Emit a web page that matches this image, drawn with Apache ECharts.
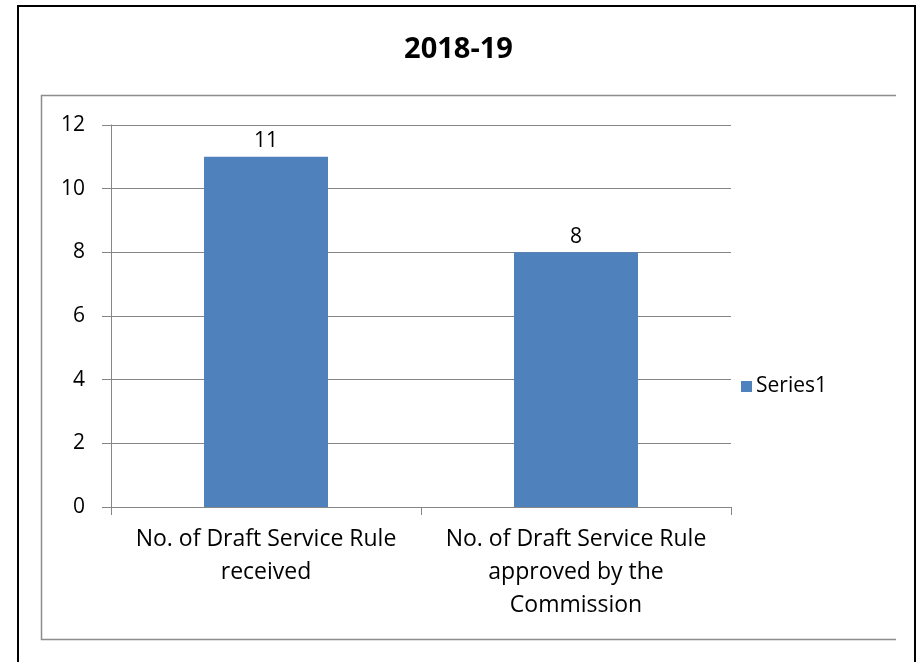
<!DOCTYPE html>
<html>
<head>
<meta charset="utf-8">
<script src="https://cdn.jsdelivr.net/npm/echarts@6/dist/echarts.min.js"></script>
<style>html,body{margin:0;padding:0;background:#fff}#c{width:917px;height:662px}</style>
</head>
<body>
<div id="c"></div>
<script>
const title = '2018-19';
const categories = ['No. of Draft Service Rule\nreceived', 'No. of Draft Service Rule\napproved by the\nCommission'];
const seriesName = 'Series1';
const values = [11, 8];
const yTicks = {min: 0, max: 12, interval: 2};

const FONT = 'Open Sans';
const chart = echarts.init(document.getElementById('c'), null, {renderer: 'canvas'});
chart.setOption({
  animation: false,
  backgroundColor: '#fff',
  textStyle: {fontFamily: FONT},
  title: {
    text: title, left: 'center', top: 30,
    textStyle: {fontFamily: FONT, fontSize: 29, fontWeight: 'bold', color: '#000'}
  },
  legend: {
    data: [seriesName], orient: 'vertical', left: 736, top: 371,
    icon: 'rect', itemWidth: 11, itemHeight: 11, itemGap: 4,
    textStyle: {fontFamily: FONT, fontSize: 21, color: '#000', padding: [0, 0, 0, -1]}
  },
  grid: {left: 111, right: 186, top: 125, bottom: 155, containLabel: false},
  xAxis: {
    type: 'category', data: categories,
    axisLine: {lineStyle: {color: '#868686', width: 1}},
    axisTick: {show: true, length: 8, alignWithLabel: false, lineStyle: {color: '#868686'}},
    axisLabel: {fontFamily: FONT, fontSize: 23, color: '#000', lineHeight: 33, margin: 16, interval: 0}
  },
  yAxis: {
    type: 'value', min: yTicks.min, max: yTicks.max, interval: yTicks.interval,
    axisLine: {show: true, lineStyle: {color: '#868686', width: 1}},
    axisTick: {show: true, length: 9, lineStyle: {color: '#868686'}},
    splitLine: {lineStyle: {color: '#868686', width: 1}},
    axisLabel: {fontFamily: FONT, fontSize: 21, color: '#000', margin: 26}
  },
  series: [{
    name: seriesName, type: 'bar', data: values, barWidth: '40%',
    itemStyle: {color: '#4f81bd'},
    label: {show: true, position: 'top', distance: 5, fontFamily: FONT, fontSize: 21, color: '#000'}
  }],
  graphic: [
    {type: 'rect', shape: {x: 18, y: 6, width: 897, height: 700}, style: {fill: 'none', stroke: '#000', lineWidth: 2}, silent: true, z: 100},
    {type: 'polyline', shape: {points: [[896, 95.5], [41.5, 95.5], [41.5, 639.5], [896, 639.5]]}, style: {fill: 'none', stroke: '#8c8c8c', lineWidth: 1.5}, silent: true, z: 100}
  ]
});
</script>
</body>
</html>
